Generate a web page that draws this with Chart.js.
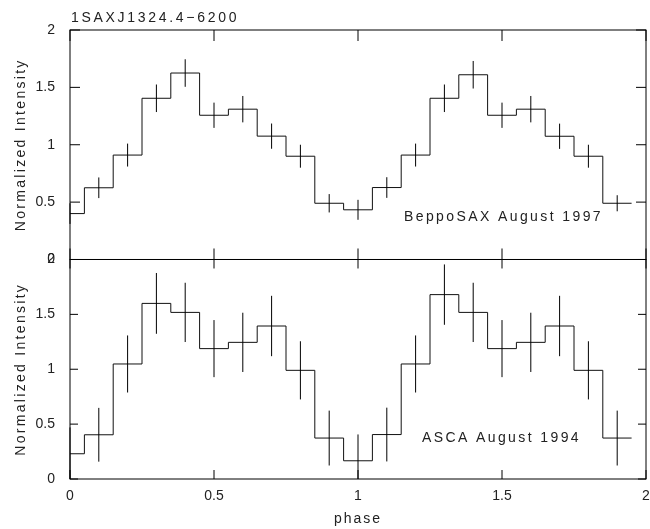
<!DOCTYPE html>
<html>
<head>
<meta charset="utf-8">
<script src="https://cdn.jsdelivr.net/npm/chart.js@4.4.1/dist/chart.umd.min.js"></script>
<style>
html, body { margin: 0; padding: 0; background: #fff; }
#wrap { position: relative; width: 650px; height: 529px; }
</style>
</head>
<body>
<div id="wrap"><canvas id="lightcurve"></canvas></div>
<script>
// bin centres (two cycles)
var phase = [0, 0.1, 0.2, 0.3, 0.4, 0.5, 0.6, 0.7, 0.8, 0.9,
             1.0, 1.1, 1.2, 1.3, 1.4, 1.5, 1.6, 1.7, 1.8, 1.9];

// BeppoSAX August 1997
var saxRate = [0.40, 0.625, 0.91, 1.405, 1.625, 1.257, 1.31, 1.075, 0.90, 0.49,
               0.433, 0.627, 0.91, 1.405, 1.61, 1.257, 1.31, 1.074, 0.90, 0.49];
var saxErr = [0.09, 0.09, 0.10, 0.12, 0.12, 0.11, 0.115, 0.11, 0.10, 0.08,
              0.087, 0.09, 0.10, 0.12, 0.12, 0.11, 0.115, 0.11, 0.10, 0.07];

// ASCA August 1994
var ascaRate = [0.23, 0.403, 1.048, 1.60, 1.518, 1.188, 1.245, 1.394, 0.99, 0.373,
                0.166, 0.405, 1.048, 1.68, 1.518, 1.188, 1.245, 1.394, 0.99, 0.373];
var ascaErr = [0.24, 0.245, 0.26, 0.277, 0.27, 0.26, 0.27, 0.275, 0.265, 0.25,
               0.24, 0.245, 0.26, 0.275, 0.27, 0.26, 0.27, 0.275, 0.265, 0.25];

var phaseTicks = [0, 0.5, 1, 1.5, 2];
var intensityTicks = [0, 0.5, 1, 1.5, 2];

var FONT = "'Liberation Sans', Arial, sans-serif";

// histogram outline: one point per bin left edge + closing right edge
function stepPoints(vals){
    var half = (phase[1] - phase[0]) / 2;
    var pts = phase.map(function(p, i){
        return {x: Math.max(0, p - half), y: vals[i]};
    });
    pts.push({x: phase[phase.length - 1] + half, y: vals[vals.length - 1]});
    return pts;
}

function plainNumber(v){ return String(v); }

var panels = [
    {axis: 'yTop', rate: saxRate, err: saxErr, tickX: 11, tickY: 10},
    {axis: 'yBot', rate: ascaRate, err: ascaErr, tickX: 9, tickY: 8}
];

var decor = {
    id: 'decor',
    afterDatasetsDraw: function(chart){
        var ctx = chart.ctx;
        var xs = chart.scales.x;
        ctx.save();
        ctx.strokeStyle = '#000';
        ctx.lineWidth = 1;

        panels.forEach(function(p){
            var ys = chart.scales[p.axis];
            var top = ys.getPixelForValue(2), bottom = ys.getPixelForValue(0);

            // error bars
            ctx.beginPath();
            phase.forEach(function(ph, i){
                var px = xs.getPixelForValue(ph);
                var lo = Math.max(0, p.rate[i] - p.err[i]);
                var hi = Math.min(2, p.rate[i] + p.err[i]);
                ctx.moveTo(px, ys.getPixelForValue(lo));
                ctx.lineTo(px, ys.getPixelForValue(hi));
            });
            ctx.stroke();

            // box
            ctx.strokeRect(xs.left, top, xs.right - xs.left, bottom - top);

            // inward ticks
            ctx.beginPath();
            phaseTicks.forEach(function(v){
                var px = xs.getPixelForValue(v);
                ctx.moveTo(px, bottom); ctx.lineTo(px, bottom - p.tickX);
                ctx.moveTo(px, top); ctx.lineTo(px, top + p.tickX);
            });
            intensityTicks.forEach(function(v){
                var py = ys.getPixelForValue(v);
                ctx.moveTo(xs.left, py); ctx.lineTo(xs.left + p.tickY, py);
                ctx.moveTo(xs.right, py); ctx.lineTo(xs.right - p.tickY, py);
            });
            ctx.stroke();
        });
        ctx.restore();
    },
    afterDraw: function(chart){
        var ctx = chart.ctx;
        var xs = chart.scales.x;
        ctx.save();
        ctx.fillStyle = '#222';
        ctx.font = '14px ' + FONT;
        ctx.textBaseline = 'alphabetic';
        ctx.textAlign = 'left';
        ctx.letterSpacing = '2.7px';
        ctx.fillText('1SAXJ1324.4\u22126200', 71, 22);
        ctx.letterSpacing = '2.4px';
        ctx.fillText('BeppoSAX August 1997', 404, 221);
        ctx.fillText('ASCA August 1994', 422, 442);

        ctx.letterSpacing = '2px';
        ctx.textAlign = 'center';
        ctx.fillText('phase', (xs.left + xs.right) / 2, 523);

        ctx.letterSpacing = '2.3px';
        panels.forEach(function(p){
            var ys = chart.scales[p.axis];
            ctx.save();
            ctx.translate(25, (ys.top + ys.bottom) / 2);
            ctx.rotate(-Math.PI / 2);
            ctx.fillText('Normalized Intensity', 0, 0);
            ctx.restore();
        });
        ctx.restore();
    }
};

function yAxis(weight, stackWeight){
    return {
        type: 'linear',
        position: 'left',
        stack: 'panels',
        stackWeight: stackWeight,
        weight: weight,
        min: 0,
        max: 2,
        grid: {display: false, drawTicks: false},
        border: {display: false},
        ticks: {padding: 15, color: '#222', font: {family: FONT, size: 14}, callback: plainNumber},
        afterBuildTicks: function(s){
            s.ticks = intensityTicks.map(function(v){ return {value: v}; });
        },
        afterFit: function(s){
            s.width = 70;
            s.paddingTop = 0;
            s.paddingBottom = 0;
        }
    };
}

new Chart(document.getElementById('lightcurve').getContext('2d'), {
    type: 'line',
    data: {
        datasets: [{
            label: 'BeppoSAX August 1997',
            data: stepPoints(saxRate),
            yAxisID: 'yTop',
            stepped: true,
            borderColor: '#111',
            borderWidth: 1,
            pointRadius: 0,
            fill: false
        }, {
            label: 'ASCA August 1994',
            data: stepPoints(ascaRate),
            yAxisID: 'yBot',
            stepped: true,
            borderColor: '#111',
            borderWidth: 1,
            pointRadius: 0,
            fill: false
        }]
    },
    options: {
        responsive: true,
        maintainAspectRatio: false,
        devicePixelRatio: 1,
        animation: false,
        layout: {padding: {top: 30, right: 4, left: 0, bottom: 0}},
        plugins: {legend: {display: false}, tooltip: {enabled: false}, title: {display: false}},
        scales: {
            x: {
                type: 'linear',
                position: 'bottom',
                min: 0,
                max: 2,
                grid: {display: false, drawTicks: false},
                border: {display: false},
                ticks: {padding: 9, color: '#222', font: {family: FONT, size: 14}, callback: plainNumber},
                afterBuildTicks: function(s){
                    s.ticks = phaseTicks.map(function(v){ return {value: v}; });
                },
                afterFit: function(s){
                    s.height = 50;
                    s.paddingLeft = 0;
                    s.paddingRight = 0;
                }
            },
            yBot: yAxis(1, 220),
            yTop: yAxis(2, 230)
        }
    },
    plugins: [decor]
});
</script>
</body>
</html>
